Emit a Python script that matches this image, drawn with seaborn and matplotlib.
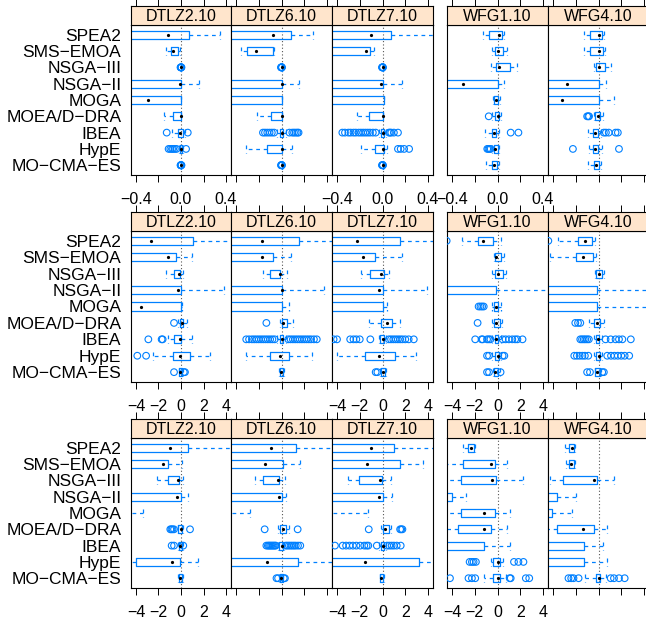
import numpy as np
import pandas as pd
import matplotlib
matplotlib.use("Agg")
import matplotlib.pyplot as plt
import seaborn as sns

# ---------------- data ----------------
ALGS = ["SPEA2", "SMS−EMOA", "NSGA−III", "NSGA−II", "MOGA",
        "MOEA/D−DRA", "IBEA", "HypE", "MO−CMA−ES"]
PROBLEMS = ["DTLZ2.10", "DTLZ6.10", "DTLZ7.10", "WFG1.10", "WFG4.10"]

XTICKS_R1 = [-0.4, -0.2, 0.0, 0.2, 0.4]
XTICKLABELS_R1 = ["−0.4", "", "0.0", "", "0.4"]
XTICKS_R23 = [-4, -2, 0, 2, 4]
XTICKLABELS_R23 = ["−4", "−2", "0", "2", "4"]

BLOB = [-0.004, -0.002, 0.0, 0.002, 0.004]

# (whisker low, q1, median, q3, whisker high) per algorithm, in ALGS order
R1_DTLZ2 = [(-1.0, -0.6, -0.113, 0.074, 0.35), (-0.13, -0.092, -0.074, -0.024, -0.005),
            (0, 0, 0, 0, 0), (-1.0, -0.6, -0.01, 0.0, 0.163), (-1.0, -0.6, -0.29, 0.0, 0.0),
            (-0.148, -0.068, 0.0, 0.0, 0.0), (-0.083, -0.03, -0.006, 0.015, 0.035),
            (-0.02, -0.012, 0.0, 0.005, 0.015), (0, 0, 0, 0, 0)]
R1_DTLZ2_OUT = [[], [], BLOB, [], [], [], [-0.127, 0.06],
                [-0.11, -0.095, -0.08, -0.07, -0.055, -0.04, 0.045], BLOB]
R1_DTLZ6 = [(-1.0, -0.6, -0.074, 0.083, 0.28), (-0.356, -0.305, -0.228, -0.074, -0.065),
            (0, 0, 0, 0, 0), (-1.0, -0.6, 0.0, 0.0, 0.157), (-1.0, -0.8, -0.6, 0.0, 0.0),
            (-0.213, -0.089, 0.0, 0.0, 0.0), (-0.04, -0.015, 0.0, 0.01, 0.04),
            (-0.31, -0.127, 0.0, 0.0, 0.09), (0, 0, 0, 0, 0)]
R1_DTLZ6_OUT = [[], [], BLOB, [], [], [],
                [-0.163, -0.145, -0.125, -0.105, -0.085, -0.065, 0.07, 0.095, 0.11, 0.125, 0.14, 0.15],
                [], BLOB]
R1_DTLZ7 = [(-1.0, -0.6, -0.098, 0.071, 0.6), (-1.0, -0.6, -0.145, -0.107, -0.077),
            (0, 0, 0, 0, 0), (-1.0, -0.6, -0.009, 0.0, 0.175), (-1.0, -0.8, -0.6, 0.01, 0.01),
            (-0.22, -0.12, 0.0, 0.005, 0.005), (-0.03, -0.01, 0.0, 0.01, 0.03),
            (-0.19, -0.062, 0.005, 0.012, 0.04), (0, 0, 0, 0, 0)]
R1_DTLZ7_OUT = [[], [], BLOB, [], [], [],
                [-0.353, -0.33, -0.3, -0.28, -0.255, -0.235, -0.21, -0.19, -0.17, -0.15,
                 -0.13, -0.11, -0.085, -0.06, 0.056, 0.066, 0.077, 0.1, 0.136],
                [0.136, 0.16, 0.19, 0.234], BLOB]
R1_WFG1 = [(-0.127, -0.077, 0.009, 0.041, 0.056), (-0.047, -0.018, 0.006, 0.05, 0.086),
           (-0.053, -0.009, 0.012, 0.11, 0.169), (-1.0, -0.6, -0.305, 0.0, 0.056),
           (-0.04, -0.027, -0.015, 0.006, 0.018), (-0.047, -0.024, 0.0, 0.012, 0.027),
           (-0.113, -0.05, -0.027, -0.009, 0.012), (-0.047, -0.033, -0.018, 0.0, 0.012),
           (-0.1, -0.047, -0.027, -0.003, 0.012)]
R1_WFG1_OUT = [[], [], [], [], [], [-0.077], [0.116, 0.184], [-0.09, -0.08, -0.07, -0.06], []]
R1_WFG4 = [(-0.13, -0.077, 0.006, 0.033, 0.047), (-0.13, -0.077, 0.003, 0.036, 0.053),
           (-0.041, -0.021, 0.003, 0.056, 0.107), (-1.0, -0.6, -0.279, 0.0, 0.062),
           (-1.0, -0.6, -0.317, 0.0, 0.136), (-0.041, -0.027, -0.006, 0.012, 0.041),
           (-0.092, -0.047, -0.033, -0.006, 0.018), (-0.086, -0.047, -0.027, -0.003, 0.027),
           (-0.092, -0.041, -0.024, 0.003, 0.018)]
R1_WFG4_OUT = [[], [], [], [], [], [-0.1, -0.09, -0.083], [0.047, 0.065, 0.09, 0.15, 0.17],
               [-0.225, 0.18], []]

R2_DTLZ2 = [(-8, -6, -2.67, 1.1, 6), (-8, -6, -1.19, -0.47, 0.95),
            (-1.33, -0.62, -0.18, -0.09, 0.2), (-8, -6, -0.3, 0.0, 3.82),
            (-8, -6, -3.59, 0.0, 0.05), (-0.24, -0.09, 0.12, 0.2, 0.56),
            (-1.13, -0.59, -0.09, 0.0, 0.95), (-2.46, -0.68, -0.09, 0.8, 2.58),
            (-0.18, -0.15, -0.06, 0.12, 0.2)]
R2_DTLZ2_OUT = [[], [], [], [], [], [-0.62], [-2.9, -1.72, -1.63], [-3.88, -3.1],
                [-0.62, 0.25, 0.35]]
R2_DTLZ6 = [(-8, -6, -1.72, 1.57, 6), (-8, -6, -1.72, -0.74, 0.8),
            (-1.63, -0.98, -0.15, -0.1, 0.44), (-8, -6, 0.0, 0.0, 3.76),
            (-8, -7, -6, 0.0, 0.7), (-0.15, 0.0, 0.15, 0.44, 1.04),
            (-0.4, -0.15, 0.0, 0.15, 0.4), (-3.1, -0.98, -0.15, 0.68, 2.67),
            (-0.25, -0.15, -0.05, 0.15, 0.22)]
R2_DTLZ6_OUT = [[], [], [], [], [], [-1.33],
                [-3.1, -2.85, -2.6, -2.4, -2.2, -2.0, -1.8, -1.6, -1.4, -1.2, -1.0, -0.8, -0.6,
                 0.6, 0.8, 1.0, 1.2, 1.4, 1.6, 1.8, 2.0, 2.2, 2.4, 2.6, 2.85, 3.1],
                [], []]
R2_DTLZ7 = [(-8, -6, -2.25, 1.54, 6), (-8, -6, -1.75, -0.68, 1.75),
            (-1.9, -1.13, -0.09, 0.12, 0.56), (-8, -6, -0.33, 0.06, 3.9),
            (-8, -7, -6, 0.06, 0.4), (-1.16, -0.09, 0.36, 0.8, 1.5),
            (-0.3, -0.18, 0.0, 0.12, 0.3), (-3.97, -1.51, -0.27, 1.07, 2.93),
            (-0.2, -0.12, 0.0, 0.18, 0.3)]
R2_DTLZ7_OUT = [[], [], [], [], [], [],
                [-4.3, -4.0, -2.84, -2.55, -2.3, -2.0, -1.07, 0.56, 0.75, 0.95, 1.15, 1.35,
                 1.55, 1.75, 2.0, 2.3, 2.75],
                [], [-0.6, -0.45]]
R2_WFG1 = [(-3.14, -1.75, -1.3, -0.41, 0.27), (-0.33, -0.18, -0.09, 0.33, 0.56),
           (-0.47, -0.18, 0.03, 0.47, 0.71), (-8, -7, -6, -0.12, 6),
           (-0.47, -0.33, -0.12, 0.03, 0.27), (-0.47, -0.27, -0.09, 0.18, 0.41),
           (-0.5, -0.18, -0.09, 0.06, 0.3), (-0.45, -0.18, 0.0, 0.12, 0.3),
           (-0.4, -0.33, -0.18, 0.0, 0.2)]
R2_WFG1_OUT = [[-4.47], [], [], [], [-1.66, -1.5, -1.35, -1.21], [-1.75],
               [-1.96, -1.4, -1.3, -0.92, -0.77, -0.62, 0.45, 0.71, 1.0, 1.3, 1.55, 1.75, 2.2],
               [-0.92, -0.75, 0.45, 0.6], [-0.92, -0.75, 0.27]]
R2_WFG4 = [(-3.53, -1.8, -1.16, -0.56, -0.27), (-4.27, -1.96, -1.39, -0.47, -0.18),
           (-0.33, -0.18, 0.0, 0.27, 0.47), (-8, -7, -6, -0.12, 6),
           (-8, -7, -6, -0.12, 6), (-0.86, -0.41, -0.12, 0.12, 0.47),
           (-0.4, -0.18, -0.03, 0.06, 0.3), (-0.4, -0.18, 0.0, 0.12, 0.35),
           (-0.35, -0.27, -0.12, 0.12, 0.25)]
R2_WFG4_OUT = [[-4.41], [], [], [], [], [-2.04, -1.8, -1.6],
               [-1.6, -1.45, -1.3, -1.16, -1.0, -0.85, 0.62, 1.07, 1.5, 1.8, 2.1, 2.84],
               [-2.13, -1.9, -1.66, -1.42, -1.2, -0.9, 0.77, 1.1, 1.4, 1.7, 2.0, 2.3, 2.7],
               [-1.0, -0.75, 0.33, 0.47]]

R3_DTLZ2 = [(-8, -6, -0.98, 0.65, 6), (-8, -6, -1.63, -1.19, 0.06),
            (-2.1, -1.19, -0.24, -0.18, 0.2), (-8, -6, -0.39, 0.0, 0.65),
            (-10, -9, -8, -7, -3.35), (-0.3, -0.24, 0.0, 0.06, 0.2),
            (-0.3, -0.18, -0.09, 0.06, 0.15), (-6, -4.0, -0.77, -0.09, 1.54),
            (-0.3, -0.18, -0.09, 0.06, 0.2)]
R3_DTLZ2_OUT = [[], [], [], [], [], [-0.95, -0.85, -0.75, -0.62, 0.8],
                [-0.83, -0.62, 0.2], [], []]
R3_DTLZ6 = [(-8, -6, -0.89, 1.27, 6), (-8, -6, -1.48, 0.09, 1.63),
            (-2.37, -1.63, -0.3, -0.21, 0.3), (-8, -6, -0.21, 0.0, 0.38),
            (-10, -9, -8, -7, -2.81), (-0.3, -0.15, 0.09, 0.38, 0.68),
            (-0.35, -0.2, 0.0, 0.15, 0.25), (-8, -6, -1.27, 1.42, 6),
            (-0.2, -0.1, -0.06, 0.1, 0.15)]
R3_DTLZ6_OUT = [[], [], [], [], [], [-1.48, 1.42],
                [-1.33, -1.2, -1.1, -1.0, -0.9, -0.8, -0.7, -0.6, -0.5, 0.35, 0.5, 0.65, 0.8,
                 0.95, 1.1, 1.25, 1.45, 1.65],
                [], [-0.44, -0.3, 0.2, 0.3]]
R3_DTLZ7 = [(-8, -6, -0.98, 1.0, 6), (-8, -6, -1.36, 1.54, 3.59),
            (-3.05, -2.1, -0.18, -0.03, 0.71), (-8, -6, -0.27, 0.06, 0.86),
            (-10, -9, -8, -7, -1.3), (-0.1, 0.0, 0.18, 0.56, 0.71),
            (-0.3, -0.1, 0.0, 0.1, 0.3), (-8, -6, -1.57, 3.23, 6),
            (-0.25, -0.18, -0.09, 0.06, 0.12)]
R3_DTLZ7_OUT = [[], [], [], [], [], [-1.21, 1.55, 1.65, 1.75],
                [-4.18, -3.5, -3.2, -2.9, -2.6, -2.3, -1.96, -1.6, -1.4, -1.25, -0.5,
                 0.4, 0.6, 0.8, 1.0, 1.25, 1.6],
                [], []]
R3_WFG1 = [(-3.0, -2.55, -2.31, -2.1, -1.96), (-6, -3.05, -0.56, -0.24, 0.86),
           (-6, -3.23, -0.47, -0.12, 2.2), (-10, -8, -6, -3.97, -2.78),
           (-6, -3.23, -1.21, -0.24, 1.07), (-6, -3.5, -1.21, -0.56, 0.86),
           (-10, -8, -6, -1.21, 1.07), (-0.6, -0.39, 0.0, 0.18, 0.45),
           (-1.2, -0.39, 0.0, 0.18, 0.71)]
R3_WFG1_OUT = [[], [], [], [], [], [], [],
               [-2.45, -2.25, -2.1, -1.9, 1.45, 1.84, 2.28],
               [-4.18, -2.55, -2.25, -1.96, 1.07, 1.16, 2.49, 2.79]]
R3_WFG4 = [(-2.93, -2.55, -2.37, -2.19, -2.04), (-2.84, -2.55, -2.4, -2.19, -2.04),
           (-4.27, -3.14, -0.41, -0.12, 1.36), (-10, -8, -6, -3.67, -1.96),
           (-10, -8, -6, -4.12, -2.34), (-6, -3.61, -1.39, -0.36, 0.71),
           (-10, -8, -6, -1.3, 0.41), (-10, -8, -6, -1.24, 0.71),
           (-1.16, -0.18, 0.0, 0.12, 0.62)]
R3_WFG4_OUT = [[], [], [], [], [], [], [], [],
               [-2.64, -2.4, -2.2, -1.75, 1.07, 1.36, 1.8, 2.3]]

ROWS = [
    ([R1_DTLZ2, R1_DTLZ6, R1_DTLZ7, R1_WFG1, R1_WFG4],
     [R1_DTLZ2_OUT, R1_DTLZ6_OUT, R1_DTLZ7_OUT, R1_WFG1_OUT, R1_WFG4_OUT],
     0.444, XTICKS_R1, XTICKLABELS_R1),
    ([R2_DTLZ2, R2_DTLZ6, R2_DTLZ7, R2_WFG1, R2_WFG4],
     [R2_DTLZ2_OUT, R2_DTLZ6_OUT, R2_DTLZ7_OUT, R2_WFG1_OUT, R2_WFG4_OUT],
     4.44, XTICKS_R23, XTICKLABELS_R23),
    ([R3_DTLZ2, R3_DTLZ6, R3_DTLZ7, R3_WFG1, R3_WFG4],
     [R3_DTLZ2_OUT, R3_DTLZ6_OUT, R3_DTLZ7_OUT, R3_WFG1_OUT, R3_WFG4_OUT],
     4.44, XTICKS_R23, XTICKLABELS_R23),
]

# ---------------- style / layout ----------------
sns.set_style("white")
plt.rcParams["font.family"] = ["Liberation Sans", "DejaVu Sans"]
plt.rcParams["axes.unicode_minus"] = True
plt.rcParams["text.color"] = "black"
plt.rcParams["xtick.color"] = "black"
plt.rcParams["ytick.color"] = "black"
plt.rcParams["xtick.labelcolor"] = "black"
plt.rcParams["ytick.labelcolor"] = "black"
plt.rcParams["axes.labelcolor"] = "black"

BLUE = "#0080ff"
STRIP = "#ffe5cc"
W, H = 646, 621
ROW_Y = [(6, 25, 175), (212, 231, 382), (419, 438, 588)]
COL_X = [(131, 231), (231, 332), (332, 433), (447, 548), (548, 649)]
LABELLED_COLS = [0, 2, 3]
DASH = (0, (3, 3))


def rect(x0, x1, yt, yb):
    return [x0 / W, 1 - yb / H, (x1 - x0) / W, (yb - yt) / H]


fig = plt.figure(figsize=(W / 100, H / 100), dpi=100)

for r, (stats_list, out_list, lim, ticks, ticklabels) in enumerate(ROWS):
    st, pt, pb = ROW_Y[r]
    for c, (x0, x1) in enumerate(COL_X):
        stats = stats_list[c]
        outs = out_list[c]
        ax = fig.add_axes(rect(x0, x1, pt, pb))
        # box data: five numbers per algorithm reproduce the box statistics
        df = pd.DataFrame([(a, v) for a, s in zip(ALGS, stats) for v in s],
                          columns=["alg", "value"])
        ax.axvline(0, color="#555555", lw=0.8, ls=(0, (1, 2)), zorder=0)
        sns.boxplot(data=df, x="value", y="alg", order=ALGS, orient="h",
                    whis=(0, 100), width=0.5, fill=False, color=BLUE,
                    saturation=1, linewidth=0.9, showfliers=False,
                    medianprops=dict(visible=False),
                    whiskerprops=dict(linestyle=DASH),
                    capprops=dict(linestyle=DASH),
                    capwidths=0.5, ax=ax)
        med = pd.DataFrame({"alg": ALGS, "value": [s[2] for s in stats]})
        sns.stripplot(data=med, x="value", y="alg", order=ALGS, orient="h",
                      jitter=False, color="black", size=2.3, linewidth=0,
                      zorder=5, ax=ax)
        odf = pd.DataFrame([(a, v) for a, o in zip(ALGS, outs) for v in o],
                           columns=["alg", "value"])
        if len(odf):
            sns.stripplot(data=odf, x="value", y="alg", order=ALGS, orient="h",
                          jitter=False, color=BLUE, facecolor="none",
                          edgecolor=BLUE, size=4.8, linewidth=0.8,
                          zorder=4, ax=ax)
        ax.set_xlim(-lim, lim)
        ax.set_ylim(8.6, -0.6)
        ax.set_xlabel("")
        ax.set_ylabel("")
        for sp in ax.spines.values():
            sp.set_color("black")
            sp.set_linewidth(0.8)
        ax.set_xticks(ticks)
        if c in LABELLED_COLS:
            ax.set_xticklabels(ticklabels)
        else:
            ax.set_xticklabels([""] * len(ticks))
        ax.tick_params(axis="x", direction="out", length=5, width=0.7,
                       color="black", labelcolor="black", labelsize=11.5,
                       pad=7, bottom=True)
        if c == 0:
            ax.set_yticks(range(len(ALGS)))
            ax.set_yticklabels(ALGS, fontsize=12.5, color="black")
            ax.tick_params(axis="y", length=0, pad=7)
        else:
            ax.set_yticks([])
        # strip
        sax = fig.add_axes(rect(x0, x1, st, pt))
        sax.set_facecolor(STRIP)
        sax.set_xlim(-lim, lim)
        sax.set_ylim(0, 1)
        sax.set_yticks([])
        sax.set_xticks(ticks)
        sax.xaxis.tick_top()
        sax.set_xticklabels([])
        sax.tick_params(axis="x", direction="out", length=5, width=0.7, color="black")
        for sp in sax.spines.values():
            sp.set_color("black")
            sp.set_linewidth(0.8)
        sax.text(0.5, 0.47, PROBLEMS[c], transform=sax.transAxes,
                 ha="center", va="center", fontsize=11.5, color="black")

fig.savefig("out.png", dpi=100)
